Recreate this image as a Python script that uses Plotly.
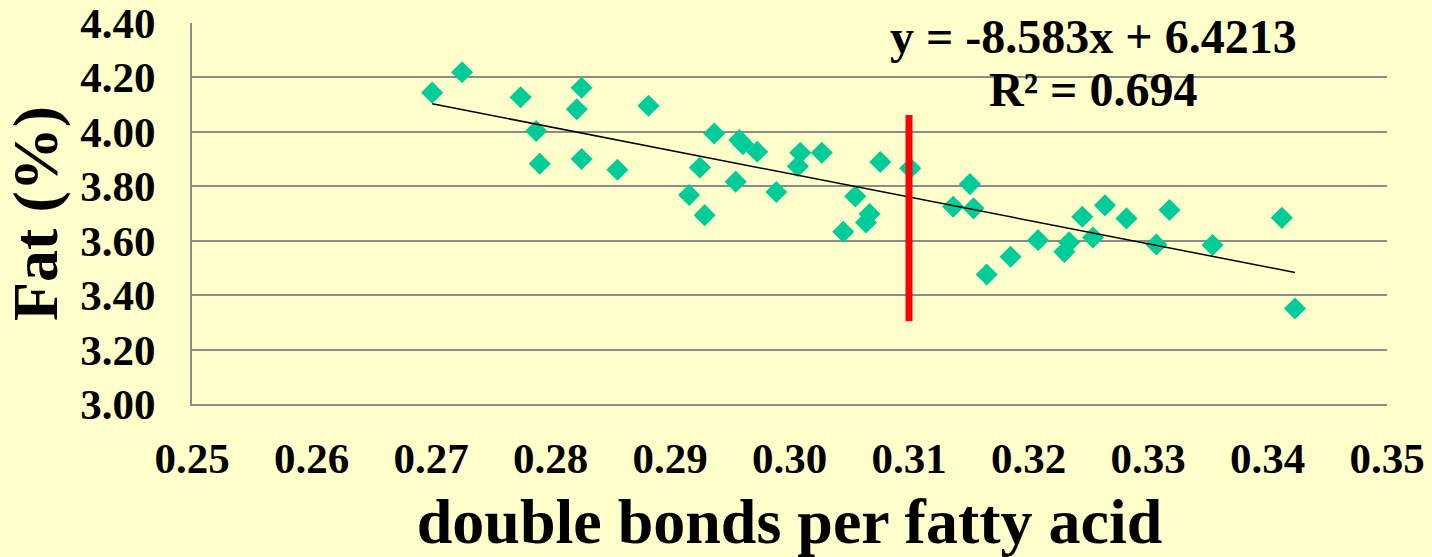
import plotly.graph_objects as go

# Data
dbpfa = [0.2701, 0.2726, 0.2775, 0.2826, 0.2822, 0.2788, 0.2791, 0.2826, 0.2856, 0.2882,
         0.2937, 0.2958, 0.2961, 0.2973, 0.3009, 0.3007, 0.3027, 0.3076, 0.2925, 0.2916,
         0.2929, 0.2955, 0.2989, 0.3055, 0.3067, 0.3064, 0.3045, 0.3101, 0.3151, 0.3137,
         0.3154, 0.3165, 0.3185, 0.3208, 0.3230, 0.3234, 0.3245, 0.3254, 0.3264, 0.3282,
         0.3307, 0.3318, 0.3354, 0.3412, 0.3423]
fat = [4.144, 4.219, 4.127, 4.162, 4.083, 4.003, 3.883, 3.900, 3.861, 4.096,
       3.994, 3.970, 3.955, 3.927, 3.923, 3.874, 3.923, 3.889, 3.869, 3.768,
       3.694, 3.817, 3.779, 3.763, 3.698, 3.667, 3.633, 3.866, 3.808, 3.725,
       3.719, 3.476, 3.541, 3.602, 3.559, 3.594, 3.688, 3.612, 3.730, 3.682,
       3.586, 3.713, 3.584, 3.684, 3.351]

slope = -8.583
intercept = 6.4213
r_squared = 0.694

threshold_x = 0.31
threshold_y = [3.304, 4.062]

x_ticks = [0.25, 0.26, 0.27, 0.28, 0.29, 0.30, 0.31, 0.32, 0.33, 0.34, 0.35]
y_ticks = [3.00, 3.20, 3.40, 3.60, 3.80, 4.00, 4.20, 4.40]

FONT = "Liberation Serif"
BG = "#FFFFCC"
GRID = "#8C8C8C"

x_min, x_max = min(dbpfa), max(dbpfa)
trend_x = [x_min, x_max]
trend_y = [slope * v + intercept for v in trend_x]

fig = go.Figure()
fig.add_trace(go.Scatter(
    x=dbpfa, y=fat, mode="markers",
    marker=dict(symbol="diamond", size=17, color="#00CC99", line=dict(width=0)),
    showlegend=False, hoverinfo="x+y"))
fig.add_trace(go.Scatter(
    x=trend_x, y=trend_y, mode="lines",
    line=dict(color="black", width=1.5), showlegend=False))
fig.add_trace(go.Scatter(
    x=[threshold_x, threshold_x], y=threshold_y, mode="lines",
    line=dict(color="#FF0000", width=7), showlegend=False))

eq_x = 0.3254
fig.add_annotation(x=eq_x, y=4.352, xref="x", yref="y",
                   text=f"y = {slope}x + {intercept}", showarrow=False,
                   xanchor="center", yanchor="middle",
                   font=dict(family=FONT, size=48, color="black", weight="bold"))
fig.add_annotation(x=eq_x, y=4.155, xref="x", yref="y",
                   text=f"R² = {r_squared}", showarrow=False,
                   xanchor="center", yanchor="middle",
                   font=dict(family=FONT, size=48, color="black", weight="bold"))

fig.update_layout(
    width=1432, height=557,
    margin=dict(l=192, r=45, t=23, b=153),
    paper_bgcolor=BG, plot_bgcolor=BG,
    font=dict(family=FONT, color="black"),
    xaxis=dict(
        range=[0.25, 0.35], tickvals=x_ticks,
        ticktext=[f"{v:.2f}" for v in x_ticks],
        showgrid=False, zeroline=False, automargin=False,
        showline=True, linecolor=GRID, linewidth=2,
        ticks="", ticklabelstandoff=15,
        tickfont=dict(family=FONT, size=43, weight="bold", color="black"),
        title=dict(text="double bonds per fatty acid", standoff=20,
                   font=dict(family=FONT, size=64, weight="bold", color="black")),
    ),
    yaxis=dict(
        range=[3.0, 4.4], tickvals=y_ticks,
        ticktext=[f"{v:.2f}" for v in y_ticks],
        showgrid=True, gridcolor=GRID, gridwidth=2, zeroline=False, automargin=False,
        showline=True, linecolor=GRID, linewidth=2,
        ticks="", ticklabelstandoff=26,
        tickfont=dict(family=FONT, size=43, weight="bold", color="black"),
        title=dict(text="Fat (%)", standoff=10,
                   font=dict(family=FONT, size=64, weight="bold", color="black")),
    ),
)

fig.write_html("out.html", config={"displayModeBar": False},
               post_script="document.body.style.margin='0';document.body.style.overflow='hidden';")
